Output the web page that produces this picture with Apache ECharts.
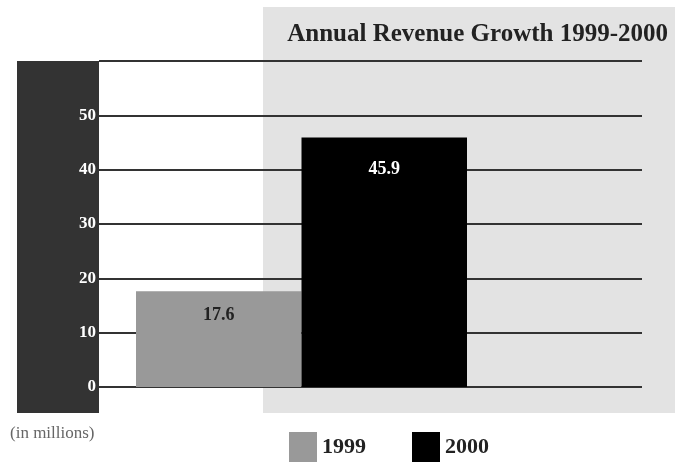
<!DOCTYPE html>
<html>
<head>
<meta charset="utf-8">
<script src="https://cdn.jsdelivr.net/npm/echarts@6/dist/echarts.min.js"></script>
<style>
  html, body { margin: 0; padding: 0; background: #fff; }
  #chart { width: 675px; height: 466px; }
</style>
</head>
<body>
<div id="chart"></div>
<script>
// data
const years = ['1999', '2000'];
const revenue1999 = [17.6, '-'];
const revenue2000 = ['-', 45.9];
const yTicks = [0, 10, 20, 30, 40, 50, 60];

const serif = '"Liberation Serif", "DejaVu Serif", serif';

const chart = echarts.init(document.getElementById('chart'));

const option = {
  animation: false,
  title: {
    text: 'Annual Revenue Growth 1999-2000',
    right: 2,
    top: 17,
    textStyle: { fontFamily: serif, fontWeight: 'bold', fontSize: 25, color: '#222' }
  },
  graphic: [
    // light panel behind the right half
    { type: 'rect', shape: { x: 263, y: 7, width: 412, height: 406 }, style: { fill: '#e3e3e3' }, z: -10 },
    // dark strip holding the axis labels
    { type: 'rect', shape: { x: 17, y: 61, width: 82, height: 352 }, style: { fill: '#333333' }, z: -5 },
    {
      type: 'text', left: 10, top: 425,
      style: { text: '(in millions)', fontFamily: serif, fontSize: 17, fill: '#666' }
    }
  ],
  legend: {
    left: 284,
    top: 427,
    itemWidth: 28,
    itemHeight: 30,
    itemGap: 46,
    icon: 'rect',
    data: ['1999', '2000'],
    textStyle: { fontFamily: serif, fontWeight: 'bold', fontSize: 22, color: '#222' }
  },
  grid: [
    { left: 99, right: 33, top: 61, height: 326 },   // gridlines
    { left: 136, width: 331, top: 61, height: 326 }  // bars
  ],
  xAxis: [
    { gridIndex: 0, type: 'category', data: years, show: false },
    { gridIndex: 1, type: 'category', data: years, show: false }
  ],
  yAxis: [
    {
      gridIndex: 0,
      type: 'value',
      min: 0,
      max: 60,
      interval: 10,
      axisLine: { show: false },
      axisTick: { show: false },
      axisLabel: {
        margin: 3,
        fontFamily: serif,
        fontWeight: 'bold',
        fontSize: 17,
        color: '#fff',
        formatter: v => (v === yTicks[yTicks.length - 1] ? '' : v)
      },
      splitLine: { lineStyle: { color: '#333', width: 2 } }
    },
    { gridIndex: 1, type: 'value', min: 0, max: 60, show: false, splitLine: { show: false } }
  ],
  series: [
    {
      name: '1999',
      type: 'bar',
      xAxisIndex: 1,
      yAxisIndex: 1,
      stack: 'rev',
      barCategoryGap: 0,
      data: revenue1999,
      itemStyle: { color: '#999999' },
      label: {
        show: true, position: 'insideTop', distance: 15,
        fontFamily: serif, fontWeight: 'bold', fontSize: 18, color: '#222'
      }
    },
    {
      name: '2000',
      type: 'bar',
      xAxisIndex: 1,
      yAxisIndex: 1,
      stack: 'rev',
      barCategoryGap: 0,
      data: revenue2000,
      itemStyle: { color: '#000000' },
      label: {
        show: true, position: 'insideTop', distance: 23,
        fontFamily: serif, fontWeight: 'bold', fontSize: 18, color: '#fff'
      }
    }
  ]
};

chart.setOption(option);
</script>
</body>
</html>
